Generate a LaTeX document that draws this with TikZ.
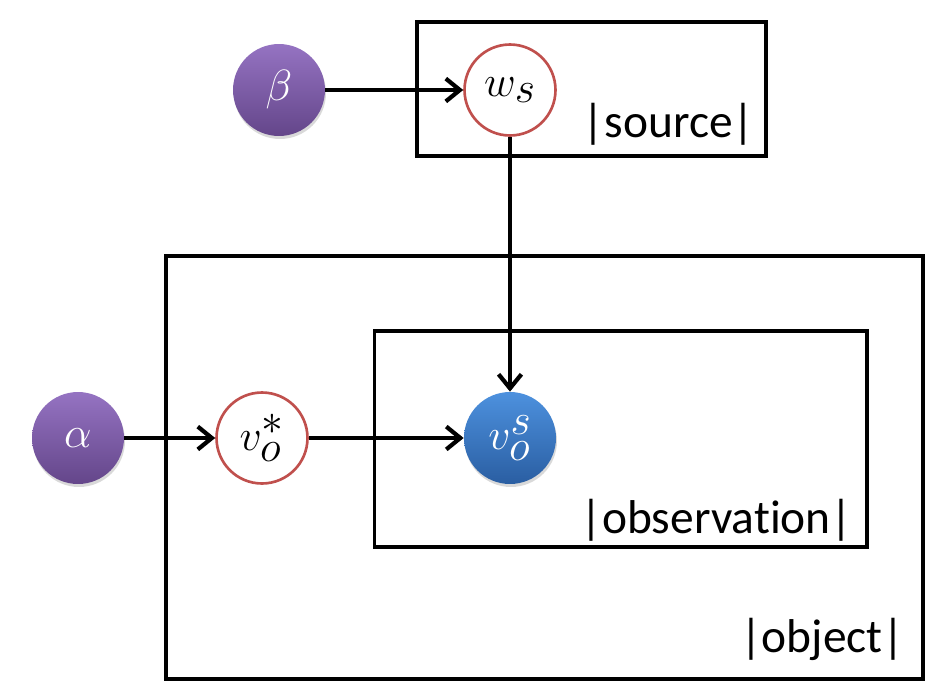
\documentclass[tikz,border=0pt]{standalone}
\usepackage{fontspec}
\setmainfont[Ligatures={NoCommon}]{Carlito}
\usetikzlibrary{arrows.meta}
\definecolor{purpT}{HTML}{9573C2}
\definecolor{purpB}{HTML}{64468A}
\definecolor{blueT}{HTML}{4D91DE}
\definecolor{blueB}{HTML}{2A5EA2}
\definecolor{rimred}{HTML}{C0504D}
\begin{document}
\begin{tikzpicture}[x=0.02cm,y=-0.02cm,
  plate/.style={draw=black, line width=2pt, inner sep=0pt},
  latent/.style={circle, draw=rimred, line width=1.5pt, fill=white, minimum size=1.82cm, inner sep=0pt, font=\fontsize{36}{40}\selectfont},
  hyperball/.style={circle, draw=none, top color=purpT, bottom color=purpB, text=white, minimum size=1.84cm, inner sep=0pt, font=\fontsize{36}{40}\selectfont},
  obsball/.style={hyperball, top color=blueT, bottom color=blueB},
  shadowball/.style={circle, fill=black, opacity=0.15, minimum size=1.84cm, inner sep=0pt},
  platelabel/.style={anchor=base east, inner sep=0pt, font=\fontsize{27}{30}\selectfont},
  edge/.style={draw=black, line width=2.4pt, -{Straight Barb[length=8pt,width=13pt,line width=2.4pt]}}
]
\useasboundingbox (0,0) rectangle (947,700);
% plates
\node[plate, minimum width=6.98cm, minimum height=2.68cm] (src) at (591.5,89) {};
\node[plate, minimum width=15.14cm, minimum height=8.46cm] (obj) at (544.5,467.5) {};
\node[plate, minimum width=9.85cm, minimum height=4.32cm] (obs) at (620.75,439) {};
\node[platelabel] (srclab) at (755,137) {|source|};
\node[platelabel] (obslab) at (853,533) {|observation|};
\node[platelabel] (objlab) at (905,652) {|object|};
% shadows
\node[shadowball] (sb) at (280,93) {};
\node[shadowball] (sa) at (79,441) {};
\node[shadowball] (sv) at (511,441) {};
% nodes
\node[hyperball] (beta) at (279,90) {$\beta$};
\node[latent] (ws) at (510,90) {$w_s$};
\node[hyperball] (alpha) at (78,438) {$\alpha$};
\node[latent] (vstar) at (262,438) {$v_o^{*}$};
\node[obsball] (vos) at (510,438) {$v_o^{s}$};
% edges
\draw[edge] (beta) -- (ws);
\draw[edge] (ws) -- (vos);
\draw[edge] (alpha) -- (vstar);
\draw[edge] (vstar) -- (vos);
\end{tikzpicture}
\end{document}
